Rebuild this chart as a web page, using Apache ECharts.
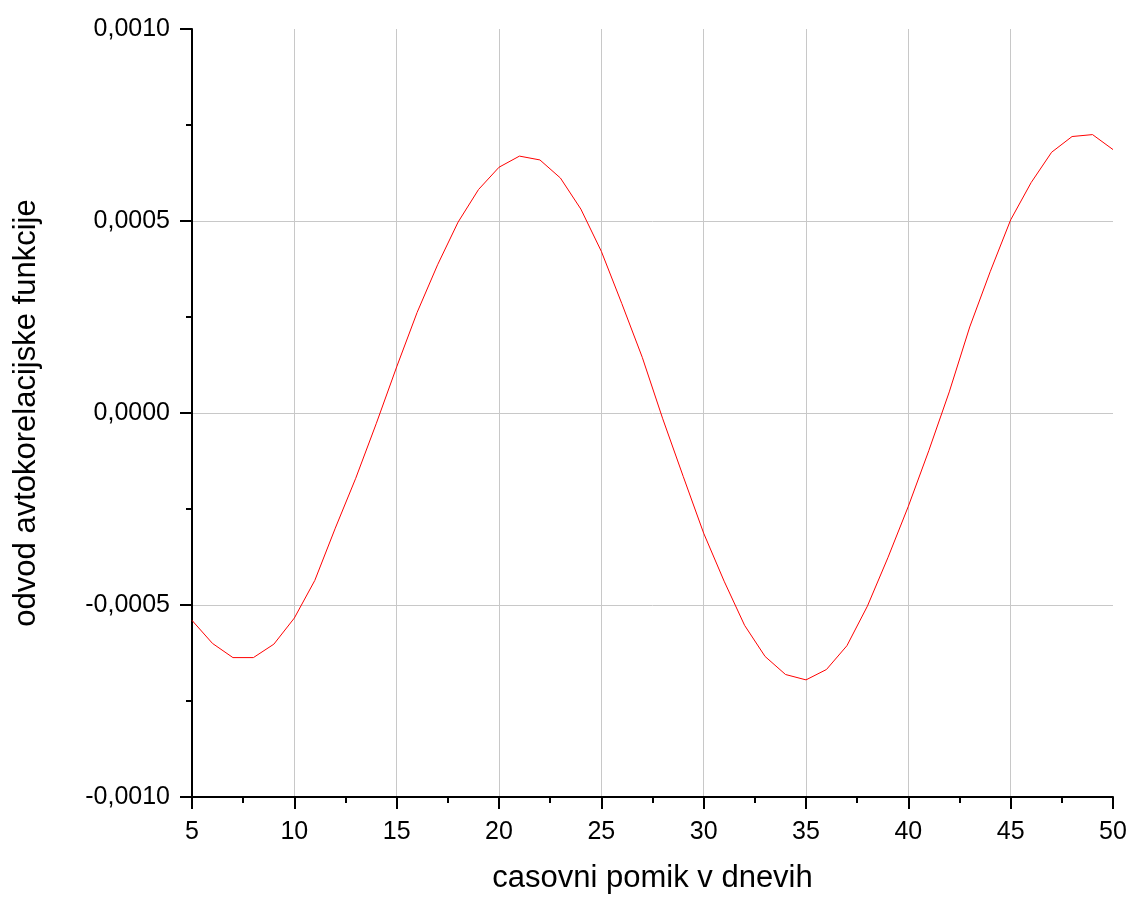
<!DOCTYPE html>
<html>
<head>
<meta charset="utf-8">
<script src="https://cdn.jsdelivr.net/npm/echarts@6/dist/echarts.min.js"></script>
<style>
  html, body { margin: 0; padding: 0; background: #fff; }
  #main { width: 1133px; height: 898px; }
</style>
</head>
<body>
<div id="main"></div>
<script>
// casovni pomik (dnevi)
var lagDays = [5, 6, 7, 8, 9, 10, 11, 12, 13, 14, 15, 16, 17, 18, 19, 20,
    21, 22, 23, 24, 25, 26, 27, 28, 29, 30, 31, 32, 33, 34, 35,
    36, 37, 38, 39, 40, 41, 42, 43, 44, 45, 46, 47, 48, 49, 50];
// odvod avtokorelacijske funkcije
var acfDerivative = [-0.00054, -0.00060, -0.000637, -0.000637, -0.000602, -0.000534,
    -0.000436, -0.000300, -0.000170, -0.000028, 0.000120, 0.000262,
    0.000386, 0.000497, 0.000582, 0.000640, 0.000669, 0.000659,
    0.000612, 0.000531, 0.000421, 0.000285, 0.000145, -0.000015,
    -0.000165, -0.000313, -0.000438, -0.000553, -0.000634, -0.000681,
    -0.000695, -0.000668, -0.000606, -0.000503, -0.000377, -0.000243,
    -0.000098, 0.000055, 0.000224, 0.000368, 0.000503, 0.000600,
    0.000679, 0.000720, 0.000725, 0.000686];

var xName = 'casovni pomik v dnevih';
var yName = 'odvod avtokorelacijske funkcije';

var points = [];
for (var i = 0; i < lagDays.length; i++) {
    points.push([lagDays[i], acfDerivative[i]]);
}

var font = "'Liberation Sans', Arial, sans-serif";
var axisBlack = {color: '#000', width: 2};

var option = {
    animation: false,
    // plot area fixed, names may sit near the edge
    grid: {left: 192, right: 20, top: 29, bottom: 101, containLabel: false, outerBoundsMode: 'none'},
    xAxis: {
        type: 'value',
        min: 5,
        max: 50,
        interval: 5,
        name: xName,
        nameLocation: 'middle',
        nameGap: 66,
        nameTextStyle: {fontFamily: font, fontSize: 31, color: '#000'},
        axisLine: {show: true, onZero: false, lineStyle: axisBlack},
        axisTick: {show: true, length: 12, lineStyle: axisBlack},
        minorTick: {show: true, splitNumber: 2, length: 6, lineStyle: axisBlack},
        axisLabel: {fontFamily: font, fontSize: 25, color: '#000', margin: 23},
        splitLine: {show: true, showMinLine: false, showMaxLine: false,
            lineStyle: {color: '#c8c8c8', width: 1}}
    },
    yAxis: {
        type: 'value',
        min: -0.001,
        max: 0.001,
        interval: 0.0005,
        name: yName,
        nameLocation: 'middle',
        nameGap: 150,
        nameRotate: 90,
        nameTextStyle: {fontFamily: font, fontSize: 31, color: '#000'},
        axisLine: {show: true, onZero: false, lineStyle: axisBlack},
        axisTick: {show: true, length: 12, lineStyle: axisBlack},
        minorTick: {show: true, splitNumber: 2, length: 6, lineStyle: axisBlack},
        axisLabel: {
            fontFamily: font, fontSize: 25, color: '#000', margin: 22,
            formatter: function (v) {
                var s = (Math.abs(v) < 1e-12 ? 0 : v).toFixed(4);
                return s.replace('.', ',');
            }
        },
        splitLine: {show: true, showMinLine: false, showMaxLine: false,
            lineStyle: {color: '#c8c8c8', width: 1}}
    },
    series: [{
        type: 'line',
        data: points,
        showSymbol: false,
        symbol: 'none',
        lineStyle: {color: '#ff0000', width: 1},
        itemStyle: {color: '#ff0000'}
    }]
};

var myChart = echarts.init(document.getElementById('main'));
myChart.setOption(option);
</script>
</body>
</html>
